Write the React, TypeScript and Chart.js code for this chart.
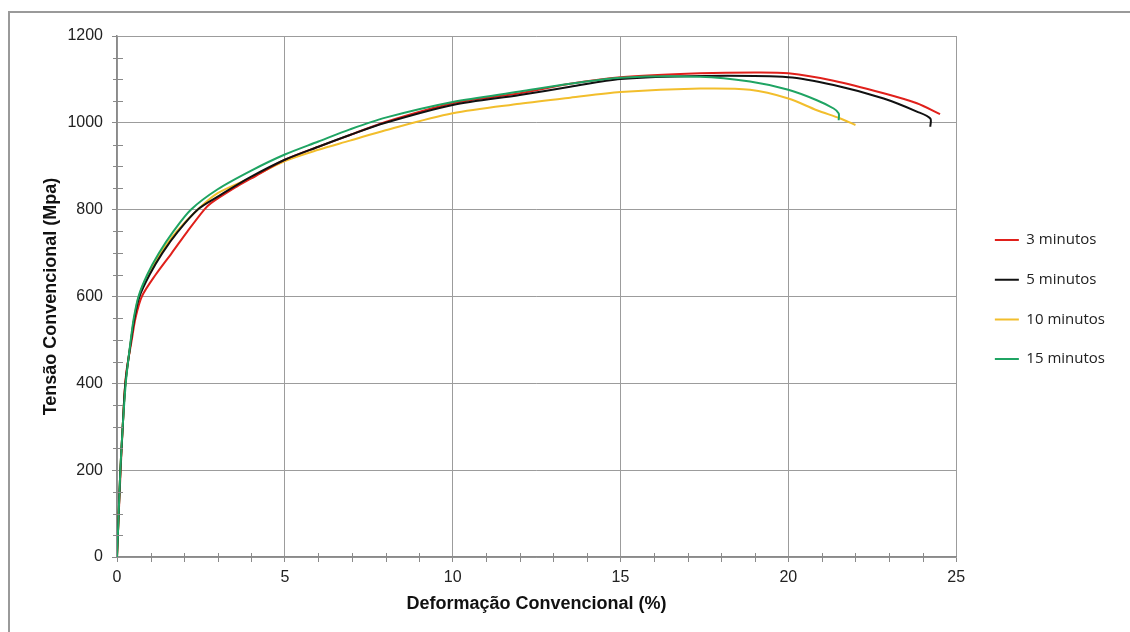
import React, { useEffect, useRef } from 'react';
import { Chart, registerables } from 'chart.js';

Chart.register(...registerables);

const seriesNames = ['3 minutos', '5 minutos', '10 minutos', '15 minutos'];
const seriesColors = ['#E0201B', '#111111', '#F2BE2C', '#1FA463'];

const strain3 = [0, 0.08, 0.17, 0.27, 0.44, 0.55, 0.74, 1.15, 1.63, 2.1, 2.6, 2.8, 3.5, 4.0, 5.0, 6.0, 6.94, 8.0, 10.0, 12.0, 13.5, 15.0, 17.37, 19.0, 20.0, 21.35, 22.84, 23.83, 24.52];
const stress3 = [0, 150, 300, 420, 500, 550, 600, 650, 700, 750, 800, 815, 850, 872, 915, 945, 972, 1002, 1045, 1068, 1090, 1105, 1114, 1116, 1114, 1097, 1068, 1045, 1020];

const strain5 = [0, 0.05, 0.1, 0.17, 0.25, 0.42, 0.52, 0.67, 0.97, 1.35, 1.82, 2.4, 3.0, 4.0, 5.0, 6.0, 6.94, 8.0, 10.0, 12.0, 13.5, 15.0, 17.37, 20.0, 21.35, 22.84, 23.83, 24.23, 24.23];
const stress5 = [0, 100, 200, 300, 400, 500, 550, 600, 650, 700, 750, 800, 830, 876, 915, 945, 972, 1000, 1041, 1064, 1083, 1101, 1108, 1105, 1087, 1056, 1026, 1010, 991];

const strain10 = [0, 0.05, 0.1, 0.17, 0.25, 0.42, 0.51, 0.65, 0.92, 1.3, 1.78, 2.4, 3.0, 4.0, 5.0, 6.0, 6.94, 8.0, 10.0, 12.0, 13.5, 15.0, 17.37, 18.86, 20.0, 20.85, 21.55, 22.0];
const stress10 = [0, 100, 200, 300, 400, 500, 550, 600, 650, 700, 750, 800, 838, 874, 912, 938, 959, 983, 1022, 1044, 1058, 1071, 1079, 1076, 1056, 1029, 1010, 995];

const strain15 = [0, 0.05, 0.1, 0.17, 0.27, 0.41, 0.5, 0.64, 0.9, 1.25, 1.68, 2.2, 3.0, 4.0, 5.0, 6.0, 6.94, 8.0, 10.0, 12.0, 13.5, 15.0, 17.37, 18.86, 20.0, 20.85, 21.35, 21.5, 21.5];
const stress15 = [0, 100, 200, 300, 408, 500, 550, 600, 650, 700, 750, 800, 847, 890, 927, 957, 985, 1012, 1048, 1072, 1090, 1104, 1106, 1095, 1076, 1052, 1033, 1022, 1006];

const xMin = 0;
const xMax = 25;
const xStep = 5;
const xMinorStep = 1;
const yMin = 0;
const yMax = 1200;
const yStep = 200;
const yMinorStep = 50;

const xTitle = 'Deformação Convencional (%)';
const yTitle = 'Tensão Convencional (Mpa)';

const strains = [strain3, strain5, strain10, strain15];
const stresses = [stress3, stress5, stress10, stress15];
const drawOrder = [2, 1, 3, 0];

const axisColor = '#8a8a8a';
const gridColor = '#9c9c9c';

const minorTicksPlugin = {
  id: 'minorTicks',
  afterDraw(chart: any) {
    const { ctx, chartArea } = chart;
    const x = chart.scales.x;
    const y = chart.scales.y;
    ctx.save();
    ctx.strokeStyle = axisColor;
    ctx.lineWidth = 1;
    ctx.beginPath();
    const ay = chartArea.bottom;
    for (let v = xMin + xMinorStep; v < xMax; v += xMinorStep) {
      if (v % xStep === 0) continue;
      const px = Math.round(x.getPixelForValue(v)) + 0.5;
      ctx.moveTo(px, ay - 4);
      ctx.lineTo(px, ay + 5);
    }
    const ax = chartArea.left;
    for (let v = yMin + yMinorStep; v < yMax; v += yMinorStep) {
      if (v % yStep === 0) continue;
      const py = Math.round(y.getPixelForValue(v)) + 0.5;
      ctx.moveTo(ax - 4, py);
      ctx.lineTo(ax + 6, py);
    }
    ctx.stroke();
    ctx.restore();
  },
};

export default function App() {
  const canvasRef = useRef<HTMLCanvasElement | null>(null);

  useEffect(() => {
    if (!canvasRef.current) return;
    const datasets = seriesNames.map((name, i) => ({
      label: name,
      data: strains[i].map((s, j) => ({ x: s, y: stresses[i][j] })),
      borderColor: seriesColors[i],
      backgroundColor: seriesColors[i],
      borderWidth: 2,
      pointRadius: 0,
      showLine: true,
      tension: 0.3,
      order: drawOrder[i],
    }));

    const tickFont = { family: 'Liberation Sans, Arial, sans-serif', size: 16 };
    const titleFont = { family: 'Liberation Sans, Arial, sans-serif', size: 18, weight: 'bold' as const };

    const chart = new Chart(canvasRef.current, {
      type: 'scatter',
      data: { datasets },
      plugins: [minorTicksPlugin],
      options: {
        animation: false,
        responsive: false,
        devicePixelRatio: 1,
        layout: { padding: { left: 36, top: 36, right: 15, bottom: 13 } },
        plugins: {
          tooltip: { enabled: false },
          legend: {
            position: 'right',
            align: 'start',
            title: { display: true, text: '', padding: { top: 157.4, bottom: 0 } },
            labels: {
              boxWidth: 24,
              boxHeight: 2,
              padding: 24.7,
              color: '#222',
              font: { family: 'Open Sans, sans-serif', size: 15 },
              sort: (a: any, b: any) => a.datasetIndex - b.datasetIndex,
              generateLabels: (c: any) =>
                (Chart.defaults.plugins.legend.labels.generateLabels as any)(c).map((l: any) => ({
                  ...l,
                  fillStyle: l.strokeStyle,
                  lineWidth: 0,
                })),
            },
          },
        },
        scales: {
          x: {
            type: 'linear',
            min: xMin,
            max: xMax,
            ticks: { stepSize: xStep, font: tickFont, color: '#222', padding: 6, maxRotation: 0, callback: (v: any) => String(v) },
            grid: { color: gridColor, tickColor: axisColor, tickLength: 5, lineWidth: 1 },
            border: { color: axisColor, width: 1.5 },
            title: { display: true, text: xTitle, font: titleFont, color: '#111', padding: { top: 4, bottom: 4 } },
            afterFit: (s: any) => {
              s.height = 62;
            },
          },
          y: {
            type: 'linear',
            min: yMin,
            max: yMax,
            ticks: { stepSize: yStep, font: tickFont, color: '#222', padding: 9, callback: (v: any) => String(v) },
            grid: { color: gridColor, tickColor: axisColor, tickLength: 5, lineWidth: 1 },
            border: { color: axisColor, width: 1.5 },
            title: { display: true, text: yTitle, font: titleFont, color: '#111', padding: { top: 4, bottom: 4 } },
            afterFit: (s: any) => {
              s.width = 81;
            },
          },
          yRight: {
            type: 'linear',
            position: 'right',
            display: true,
            min: 0,
            max: 1,
            grid: { display: false, drawTicks: false },
            border: { display: false },
            ticks: { display: false },
            afterFit: (s: any) => {
              s.width = 14;
            },
          },
        },
      } as any,
    });
    return () => chart.destroy();
  }, []);

  return (
    <div style={{ position: 'absolute', left: 0, top: 0, width: 1130, height: 632, background: '#fff' }}>
      <div
        style={{
          position: 'absolute',
          left: 8,
          top: 11,
          width: 1122,
          height: 621,
          borderLeft: '2px solid #9a9a9a',
          borderTop: '2px solid #9a9a9a',
          boxSizing: 'border-box',
        }}
      />
      <canvas ref={canvasRef} width={1130} height={632} style={{ position: 'absolute', left: 0, top: 0 }} />
    </div>
  );
}
